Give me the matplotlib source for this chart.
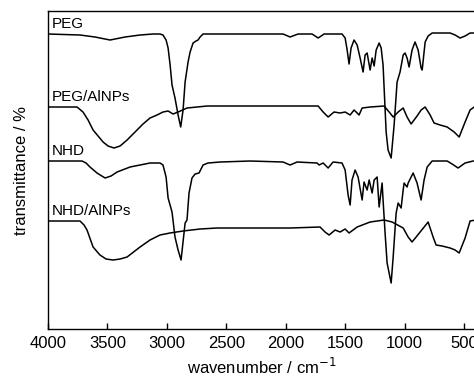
import matplotlib.pyplot as plt

plt.rcParams['font.family'] = ['Liberation Sans', 'DejaVu Sans']

# FTIR spectra, offset-stacked transmittance (arbitrary units)
peg_wn = [4000, 3731, 3605, 3478, 3352, 3226, 3117, 3058, 3033, 3007, 2990, 2973, 2957, 2932,
          2906, 2884, 2864, 2847, 2822, 2805, 2780, 2755, 2738, 2721, 2696, 2469, 2132, 2023,
          1964, 1897, 1779, 1728, 1678, 1527, 1501, 1484, 1468, 1451, 1426, 1400, 1375, 1350,
          1333, 1316, 1291, 1274, 1257, 1240, 1215, 1198, 1182, 1156, 1140, 1114, 1089, 1064,
          1039, 1013, 997, 980, 963, 938, 913, 887, 862, 853, 828, 803, 769, 618, 576, 534,
          492, 450, 400]
peg_t = [295, 294, 292, 289, 292, 294, 295, 295, 294, 289, 281, 264, 244, 231,
         214, 202, 219, 247, 267, 277, 286, 288, 289, 292, 295, 295, 295, 295,
         292, 295, 295, 291, 295, 295, 291, 279, 265, 281, 289, 284, 271, 257,
         274, 276, 259, 271, 263, 279, 286, 281, 264, 197, 179, 171, 204, 247,
         257, 274, 276, 271, 262, 279, 287, 279, 261, 259, 287, 293, 296, 296, 294, 291,
         293, 296, 296]

peg_al_wn = [4000, 3756, 3706, 3663, 3621, 3537, 3495, 3445, 3394, 3335, 3268, 3201, 3142,
             3083, 3033, 2990, 2948, 2906, 2831, 2662, 2301, 1880, 1728, 1686, 1644, 1594,
             1543, 1501, 1459, 1426, 1400, 1384, 1358, 1291, 1173, 1131, 1097, 1055, 1013,
             980, 946, 896, 862, 828, 786, 753, 702, 643, 584, 542, 492, 450, 416, 400]
peg_al_t = [222, 222, 217, 209, 199, 187, 183, 181, 183, 189, 197, 205, 211,
            214, 217, 218, 215, 217, 221, 223, 223, 223, 223, 217, 212, 217,
            216, 217, 214, 219, 216, 214, 221, 222, 223, 217, 212, 217, 221,
            212, 205, 213, 219, 222, 214, 206, 204, 202, 197, 192, 207, 219, 222, 223]

nhd_wn = [4000, 3714, 3680, 3647, 3588, 3520, 3470, 3419, 3310, 3226, 3142, 3058, 3033, 3007,
          2990, 2957, 2932, 2906, 2881, 2847, 2831, 2814, 2789, 2763, 2730, 2696, 2654, 2553,
          2301, 2023, 1964, 1905, 1737, 1720, 1686, 1644, 1602, 1527, 1501, 1476, 1459, 1443,
          1417, 1392, 1358, 1342, 1316, 1299, 1274, 1257, 1232, 1215, 1190, 1182, 1165, 1148,
          1114, 1097, 1072, 1055, 1030, 1013, 1005, 980, 971, 929, 896, 862, 837, 811, 769,
          643, 601, 551, 492, 424, 400]
nhd_t = [168, 168, 166, 162, 156, 151, 153, 157, 162, 164, 166, 166, 164, 152,
         131, 117, 92, 79, 69, 106, 109, 136, 151, 155, 156, 164, 166, 167,
         168, 167, 164, 167, 166, 164, 166, 161, 167, 166, 159, 134, 124, 149,
         159, 152, 129, 147, 139, 149, 136, 149, 152, 122, 146, 129, 96, 66,
         46, 72, 116, 126, 121, 139, 146, 142, 146, 156, 146, 129, 149, 162, 168,
         168, 165, 161, 166, 168, 168]

nhd_al_wn = [4000, 3731, 3697, 3672, 3621, 3563, 3512, 3453, 3394, 3335, 3226, 3142, 3058,
             2974, 2864, 2721, 2578, 2301, 1964, 1712, 1670, 1636, 1585, 1543, 1501, 1468,
             1400, 1291, 1173, 1106, 1013, 971, 938, 870, 803, 761, 736, 685, 618, 576, 542,
             492, 450, 400]
nhd_al_t = [108, 108, 104, 99, 82, 74, 70, 69, 70, 72, 82, 89, 94,
            96, 98, 100, 101, 101, 101, 102, 97, 94, 99, 97, 100, 96,
            102, 107, 109, 107, 101, 92, 87, 97, 107, 92, 84, 83, 81, 79, 76,
            91, 108, 109]

names = ['PEG', 'PEG/AlNPs', 'NHD', 'NHD/AlNPs']
label_t = [298, 225, 171, 111]

fig = plt.figure(figsize=(4.74, 3.77), dpi=100)
ax = fig.add_axes([0.1013, 0.1273, 0.903, 0.8435])

for wn, t in [(peg_wn, peg_t), (peg_al_wn, peg_al_t), (nhd_wn, nhd_t), (nhd_al_wn, nhd_al_t)]:
    ax.plot(wn, t, color='black', linewidth=1.1)

for name, yt in zip(names, label_t):
    ax.text(3965, yt, name, fontsize=11, ha='left', va='bottom')

ax.set_xlim(4000, 400)
ax.set_ylim(0, 318)
ax.set_xticks([4000, 3500, 3000, 2500, 2000, 1500, 1000, 500])
ax.set_yticks([])
ax.tick_params(axis='x', direction='in', length=4, width=1, labelsize=12, pad=5)
for s in ax.spines.values():
    s.set_linewidth(1.0)

ax.set_xlabel('wavenumber / cm$^{-1}$', fontsize=12, labelpad=4)
ax.set_ylabel('transmittance / %', fontsize=12, labelpad=14)

fig.savefig('out.png', dpi=100)
